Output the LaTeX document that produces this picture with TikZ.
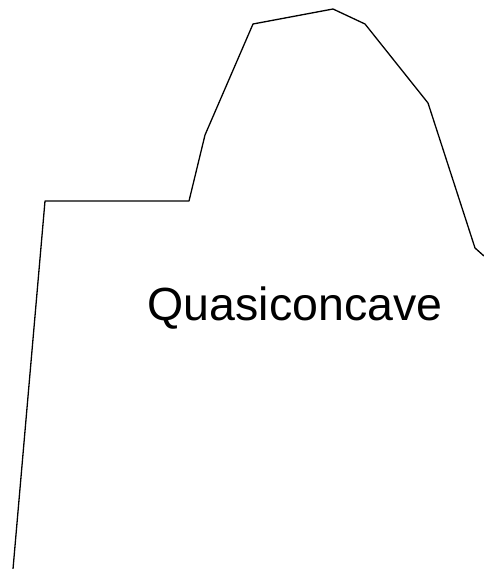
\documentclass[tikz,border=0pt]{standalone}
\usepackage{fontspec}
\setmainfont{Liberation Sans}
\usetikzlibrary{positioning}

\begin{document}
\begin{tikzpicture}[x=1pt,y=-1pt,line cap=round,line join=round]
\useasboundingbox (0,0) rectangle (483,569);
\coordinate (P0) at (13,569);
\coordinate (P1) at (45,201);
\coordinate (P2) at (189,201);
\coordinate (P3) at (205,135);
\coordinate (P4) at (253,24);
\coordinate (P5) at (333,9);
\coordinate (P6) at (365,24);
\coordinate (P7) at (428,103);
\coordinate (P8) at (475,248);
\coordinate (P9) at (484,256);
\coordinate (B) at (295,320);
% the curve
\draw[line width=1.3pt] (P0)--(P1)--(P2)--(P3)--(P4)--(P5)--(P6)--(P7)--(P8)--(P9);
% label
\node[font=\fontsize{46.5}{56}\selectfont,inner sep=0pt,anchor=base] (qc) at (B) {Quasiconcave};
\end{tikzpicture}
\end{document}
